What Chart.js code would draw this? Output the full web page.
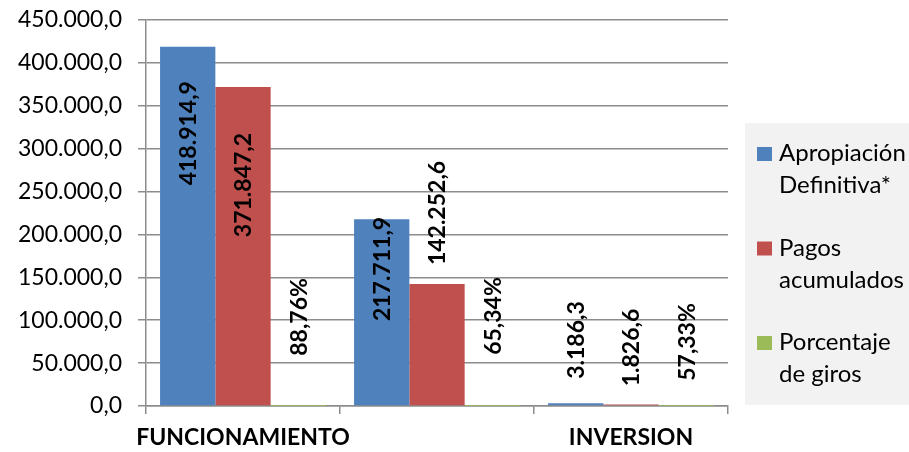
<!DOCTYPE html>
<html>
<head>
<meta charset="utf-8">
<script src="https://cdn.jsdelivr.net/npm/chart.js@4.4.1/dist/chart.umd.min.js"></script>
<style>
  body { margin: 0; background: #fff; }
  #wrap { width: 909px; height: 452px; }
</style>
</head>
<body>
<div id="wrap"><canvas id="chart" width="909" height="452"></canvas></div>
<script>
// categories (the middle label is hidden in the original, Excel skipped it)
const categories = ['FUNCIONAMIENTO', '', 'INVERSION'];
const seriesNames = ['Apropiación Definitiva*', 'Pagos acumulados', 'Porcentaje de giros'];

// values
const apropiacion = [418914.9, 217711.9, 3186.3];
const pagos = [371847.2, 142252.6, 1826.6];
const porcentaje = [88.76, 65.34, 57.33];

// where the rotated value labels sit (in axis units), they were moved by hand in the original
const labelAt = [
    [318000, 159700, 76900],
    [257600, 225000, 68200],
    [103800, 104900, 74600]
];

const FONT = 'Lato';
const gridGrey = '#8c8c8c';

// 418914.9 -> "418.914,9"
function fmt(v, dec) {
    const parts = v.toFixed(dec).split('.');
    const ent = parts[0].replace(/\B(?=(\d{3})+(?!\d))/g, '.');
    return dec > 0 ? ent + ',' + parts[1] : ent;
}

// draws the value labels turned 90 degrees
const valueLabels = {
    id: 'valueLabels',
    afterDatasetsDraw(chart) {
        const ctx = chart.ctx;
        const y = chart.scales.y;
        ctx.save();
        ctx.font = 'bold 23px ' + FONT;
        ctx.fillStyle = '#000';
        ctx.textAlign = 'center';
        ctx.textBaseline = 'middle';
        chart.data.datasets.forEach((ds, di) => {
            const meta = chart.getDatasetMeta(di);
            meta.data.forEach((bar, i) => {
                const txt = di === 2 ? fmt(ds.data[i], 2) + '%' : fmt(ds.data[i], 1);
                ctx.save();
                ctx.translate(bar.x + 1, y.getPixelForValue(labelAt[di][i]));
                ctx.rotate(-Math.PI / 2);
                ctx.fillText(txt, 0, 0);
                ctx.restore();
            });
        });
        ctx.restore();
    }
};

// legend box on the right, two lines per item
const sideLegend = {
    id: 'sideLegend',
    afterDraw(chart) {
        const ctx = chart.ctx;
        ctx.save();
        ctx.fillStyle = '#f2f2f2';
        ctx.fillRect(745, 123, 170, 282);
        ctx.font = '24px ' + FONT;
        ctx.textBaseline = 'alphabetic';
        ctx.textAlign = 'left';
        chart.data.datasets.forEach((ds, i) => {
            const base = 161 + i * 94.5;
            ctx.fillStyle = ds.backgroundColor;
            ctx.fillRect(757, base - 14, 15, 14);
            const name = ds.label;
            const cut = name.indexOf(' ');
            ctx.fillStyle = '#000';
            ctx.fillText(name.slice(0, cut), 779, base);
            ctx.fillText(name.slice(cut + 1), 779, base + 32);
        });
        ctx.restore();
    }
};

new Chart(document.getElementById('chart'), {
    type: 'bar',
    data: {
        labels: categories,
        datasets: [
            { label: seriesNames[0], data: apropiacion, backgroundColor: '#4f81bd' },
            { label: seriesNames[1], data: pagos, backgroundColor: '#c0504d' },
            { label: seriesNames[2], data: porcentaje, backgroundColor: '#9bbb59' }
        ]
    },
    options: {
        responsive: false,
        animation: false,
        categoryPercentage: 0.855,
        barPercentage: 1.0,
        layout: { padding: { top: 20, right: 181, bottom: 0, left: 0 } },
        plugins: {
            legend: { display: false },
            tooltip: { enabled: false }
        },
        scales: {
            x: {
                grid: {
                    offset: true,
                    drawOnChartArea: false,
                    drawTicks: true,
                    tickLength: 8,
                    color: gridGrey,
                    lineWidth: 1.5
                },
                border: { color: gridGrey, width: 1.5 },
                ticks: {
                    autoSkip: false,
                    maxRotation: 0,
                    padding: 10,
                    color: '#000',
                    font: { family: FONT, size: 23, weight: 'bold' }
                },
                afterFit(scale) {
                    scale.height = 46;
                    scale.paddingLeft = 0;
                    scale.paddingRight = 0;
                }
            },
            y: {
                min: 0,
                max: 450000,
                grid: { color: gridGrey, lineWidth: 1.5, tickLength: 8 },
                border: { color: gridGrey, width: 1.5 },
                ticks: {
                    stepSize: 50000,
                    padding: 16,
                    color: '#000',
                    font: { family: FONT, size: 23 },
                    callback: (v) => fmt(v, 1)
                },
                afterFit(scale) {
                    scale.width = 146;
                    scale.paddingTop = 0;
                    scale.paddingBottom = 0;
                }
            }
        }
    },
    plugins: [valueLabels, sideLegend]
});
</script>
</body>
</html>
